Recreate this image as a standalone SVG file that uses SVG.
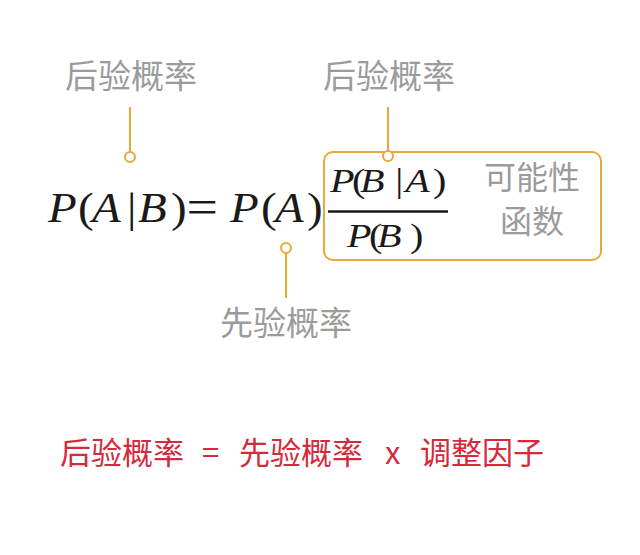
<svg xmlns="http://www.w3.org/2000/svg" width="640" height="555" viewBox="0 0 640 555">
<style>
.lbl{font-family:"Noto Sans CJK SC","Noto Sans",sans-serif;fill:#9b9b9b;font-size:33px;text-anchor:middle}
.lbl2{font-family:"Noto Sans CJK SC","Noto Sans",sans-serif;fill:#9b9b9b;font-size:32px;text-anchor:middle}
.red{font-family:"Noto Sans CJK SC","Noto Sans",sans-serif;fill:#d42a3c;font-size:31px}
.m{font-family:"Liberation Serif","DejaVu Serif",serif;fill:#1a1a1a}
.i{font-style:italic}
.ln{stroke:#e8a83a;stroke-width:2;fill:none}
.dot{stroke:#e8a83a;stroke-width:2;fill:#fff}
</style>
<rect width="640" height="555" fill="#ffffff"/>
<g id="formula">
<text class="m" font-size="42" y="222" transform="scale(1.12 1)"><tspan class="i" x="42.9">P</tspan><tspan x="69.6">(</tspan><tspan class="i" x="82.1">A</tspan><tspan x="113.4">|</tspan><tspan class="i" x="123.2">B</tspan><tspan x="152.7">)</tspan><tspan x="166.5" dy="2" font-size="50">=</tspan><tspan class="i" x="205.4" dy="-2">P</tspan><tspan x="233">(</tspan><tspan class="i" x="245.5">A</tspan><tspan x="274.1">)</tspan></text>
</g>
<g id="likelihood">
<rect x="324" y="152" width="277" height="108" rx="9" class="ln"/>
<text class="m" font-size="34" y="192" transform="scale(1.18 1)"><tspan class="i" x="279.7">P</tspan><tspan x="298.3">(</tspan><tspan class="i" x="305.1">B</tspan><tspan x="335">|</tspan><tspan class="i" x="343.5">A</tspan><tspan x="366.9">)</tspan></text>
<line x1="328" y1="211.5" x2="448" y2="211.5" stroke="#1a1a1a" stroke-width="2.5"/>
<text class="m" font-size="34" y="247" transform="scale(1.18 1)"><tspan class="i" x="294.1">P</tspan><tspan x="312.7">(</tspan><tspan class="i" x="319.5">B</tspan><tspan x="347.5">)</tspan></text>
<text class="lbl2" x="532" y="189">可能性</text>
<text class="lbl2" x="532" y="233">函数</text>
</g>
<g id="label-posterior-left">
<text class="lbl" x="131" y="88">后验概率</text>
</g>
<g id="label-posterior-right">
<text class="lbl" x="389" y="88">后验概率</text>
</g>
<g id="label-prior">
<text class="lbl" x="286" y="335">先验概率</text>
</g>
<g id="connectors">
<line class="ln" x1="130" y1="107" x2="130" y2="152"/>
<circle class="dot" cx="130" cy="157" r="5"/>
<line class="ln" x1="388" y1="107" x2="388" y2="151"/>
<circle class="dot" cx="388" cy="156" r="5"/>
<line class="ln" x1="286" y1="253" x2="286" y2="298"/>
<circle class="dot" cx="286" cy="248" r="5"/>
</g>
<g id="summary">
<text class="red" y="464"><tspan x="60">后验概率</tspan><tspan x="202">=</tspan><tspan x="239">先验概率</tspan><tspan x="385">x</tspan><tspan x="420">调整因子</tspan></text>
</g>
</svg>
